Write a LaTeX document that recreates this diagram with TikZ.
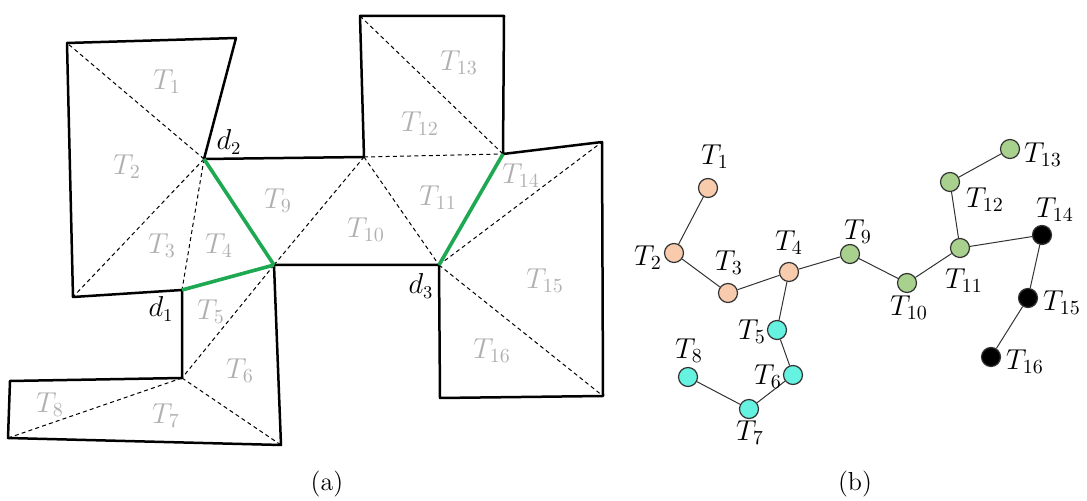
\documentclass[tikz,border=0pt]{standalone}
\usepackage{xcolor}
\definecolor{peach}{HTML}{F8CBAD}
\definecolor{aqua}{HTML}{66F2E0}
\definecolor{leaf}{HTML}{A9D18E}
\definecolor{lab}{HTML}{B0B0B0}
\definecolor{cgreen}{HTML}{1DA851}
\begin{document}
\begin{tikzpicture}[x=0.5pt,y=-0.5pt,
  outline/.style={line width=1.25pt,line join=round},
  diag/.style={line width=0.5pt,dash pattern=on 2pt off 1.6pt},
  cut/.style={line width=1.8pt,cgreen},
  tlab/.style={text=lab,font=\fontsize{14}{16}\selectfont,inner sep=0pt},
  dlab/.style={font=\fontsize{13.5}{15}\selectfont,inner sep=0pt},
  gnode/.style={circle,draw=black!80,line width=0.6pt,minimum size=9.5pt,inner sep=0pt},
  gedge/.style={line width=0.5pt,black!80},
  glab/.style={font=\fontsize{14.5}{16}\selectfont,inner sep=0pt},
  captext/.style={font=\fontsize{13}{15}\selectfont,inner sep=0pt}]
\useasboundingbox (0,0) rectangle (1087,501);
% ---- (a) vertices
\coordinate (p1) at (67,43);
\coordinate (p2) at (236,38);
\coordinate (d2) at (204,159);
\coordinate (p4) at (364,157);
\coordinate (p5) at (360,16);
\coordinate (p6) at (504,16);
\coordinate (p7) at (503,154);
\coordinate (p8) at (602,142);
\coordinate (p9) at (603,396);
\coordinate (p10) at (440,398);
\coordinate (d3) at (439,265);
\coordinate (v4) at (274,265);
\coordinate (p13) at (281,445);
\coordinate (p14) at (8,438);
\coordinate (p15) at (10,381);
\coordinate (p16) at (182,378);
\coordinate (d1) at (182,290);
\coordinate (p18) at (73,297);
% dashed diagonals
\draw[diag] (d2) -- (p1);
\draw[diag] (d2) -- (p18);
\draw[diag] (d2) -- (d1);
\draw[diag] (v4) -- (p4);
\draw[diag] (p4) -- (d3);
\draw[diag] (p4) -- (p7);
\draw[diag] (p5) -- (p7);
\draw[diag] (d3) -- (p8);
\draw[diag] (d3) -- (p9);
\draw[diag] (v4) -- (p16);
\draw[diag] (p16) -- (p13);
\draw[diag] (p16) -- (p14);
% outline
\draw[outline] (p1) -- (p2) -- (d2) -- (p4) -- (p5) -- (p6) -- (p7) -- (p8) -- (p9) -- (p10) -- (d3) -- (v4) -- (p13) -- (p14) -- (p15) -- (p16) -- (d1) -- (p18) -- cycle;
% green cuts
\draw[cut] (d1) -- (v4);
\draw[cut] (d2) -- (v4);
\draw[cut] (d3) -- (p7);
% labels
\node[tlab] (a1) at (167,82) {$T_{1}$};
\node[tlab] (a2) at (127,167) {$T_{2}$};
\node[tlab] (a3) at (162,246) {$T_{3}$};
\node[tlab] (a4) at (219,246) {$T_{4}$};
\node[tlab] (a5) at (211,312) {$T_{5}$};
\node[tlab] (a6) at (240,371) {$T_{6}$};
\node[tlab] (a7) at (166,416) {$T_{7}$};
\node[tlab] (a8) at (50,405) {$T_{8}$};
\node[tlab] (a9) at (278,201) {$T_{9}$};
\node[tlab] (a10) at (366,230) {$T_{10}$};
\node[tlab] (a11) at (438,198) {$T_{11}$};
\node[tlab] (a12) at (420,124) {$T_{12}$};
\node[tlab] (a13) at (459,63) {$T_{13}$};
\node[tlab] (a14) at (521,176) {$T_{14}$};
\node[tlab] (a15) at (545,281) {$T_{15}$};
\node[tlab] (a16) at (492,351) {$T_{16}$};
\node[dlab] (ld2) at (229,142) {$d_{2}$};
\node[dlab] (ld1) at (161,309) {$d_{1}$};
\node[dlab] (ld3) at (421,286) {$d_{3}$};
% ---- (b) graph
\node[gnode,fill=peach] (n1) at (708,188) {};
\node[gnode,fill=peach] (n2) at (674,253) {};
\node[gnode,fill=peach] (n3) at (728,293) {};
\node[gnode,fill=peach] (n4) at (789,272) {};
\node[gnode,fill=aqua] (n5) at (777,330) {};
\node[gnode,fill=aqua] (n6) at (793,375) {};
\node[gnode,fill=aqua] (n7) at (749,409) {};
\node[gnode,fill=aqua] (n8) at (688,377) {};
\node[gnode,fill=leaf] (n9) at (850,254) {};
\node[gnode,fill=leaf] (n10) at (907,283) {};
\node[gnode,fill=leaf] (n11) at (960,248) {};
\node[gnode,fill=leaf] (n12) at (950,182) {};
\node[gnode,fill=leaf] (n13) at (1010,149) {};
\node[gnode,fill=black] (n14) at (1042,235) {};
\node[gnode,fill=black] (n15) at (1028,298) {};
\node[gnode,fill=black] (n16) at (991,357) {};
\draw[gedge] (n1) -- (n2);
\draw[gedge] (n2) -- (n3);
\draw[gedge] (n3) -- (n4);
\draw[gedge] (n4) -- (n9);
\draw[gedge] (n9) -- (n10);
\draw[gedge] (n10) -- (n11);
\draw[gedge] (n11) -- (n12);
\draw[gedge] (n12) -- (n13);
\draw[gedge] (n11) -- (n14);
\draw[gedge] (n14) -- (n15);
\draw[gedge] (n15) -- (n16);
\draw[gedge] (n4) -- (n5);
\draw[gedge] (n5) -- (n6);
\draw[gedge] (n6) -- (n7);
\draw[gedge] (n7) -- (n8);
\node[glab] (b1) at (715,157) {$T_{1}$};
\node[glab] (b2) at (648,258) {$T_{2}$};
\node[glab] (b3) at (729,263) {$T_{3}$};
\node[glab] (b4) at (789,243) {$T_{4}$};
\node[glab] (b5) at (752,332) {$T_{5}$};
\node[glab] (b6) at (768,377) {$T_{6}$};
\node[glab] (b7) at (750,433) {$T_{7}$};
\node[glab] (b8) at (689,351) {$T_{8}$};
\node[glab] (b9) at (858,232) {$T_{9}$};
\node[glab] (b10) at (909,308) {$T_{10}$};
\node[glab] (b11) at (964,281) {$T_{11}$};
\node[glab] (b12) at (985,200) {$T_{12}$};
\node[glab] (b13) at (1043,155) {$T_{13}$};
\node[glab] (b14) at (1055,210) {$T_{14}$};
\node[glab] (b15) at (1062,303) {$T_{15}$};
\node[glab] (b16) at (1025,362) {$T_{16}$};
% captions
\node[captext] (ca) at (327,484) {(a)};
\node[captext] (cb) at (855,484) {(b)};
\end{tikzpicture}
\end{document}
